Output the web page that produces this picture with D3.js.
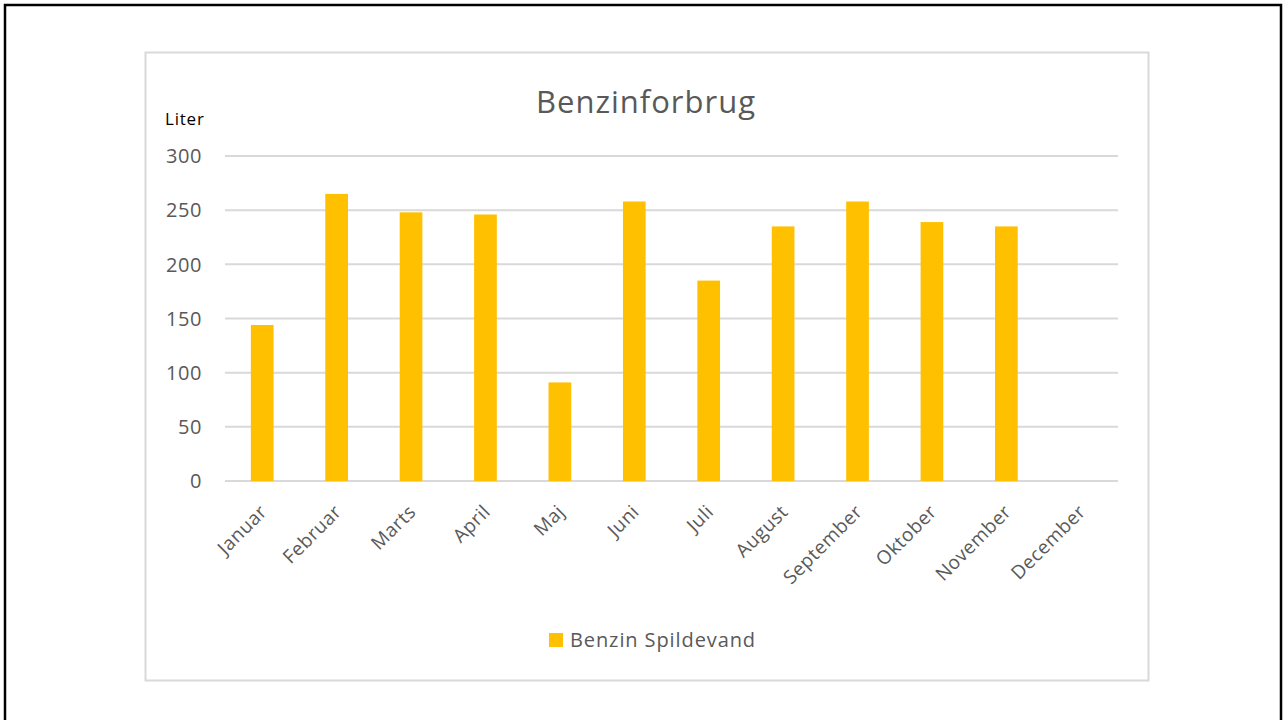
<!DOCTYPE html>
<html>
<head>
<meta charset="utf-8">
<script src="https://cdn.jsdelivr.net/npm/d3@7"></script>
<style>
  html, body { margin: 0; padding: 0; background: #fff; }
  svg { display: block; font-family: "Open Sans", sans-serif; }
</style>
</head>
<body>
<div id="chart"></div>
<script>
// Data
const months = ["Januar", "Februar", "Marts", "April", "Maj", "Juni", "Juli",
  "August", "September", "Oktober", "November", "December"];
const benzin = [144, 265, 248, 246, 91, 258, 185, 235, 258, 239, 235, null];
const yTicks = [0, 50, 100, 150, 200, 250, 300];
const seriesName = "Benzin Spildevand";
const chartTitle = "Benzinforbrug";
const yUnit = "Liter";

const width = 1284, height = 720;

const svg = d3.select("#chart")
  .append("svg")
  .attr("width", width)
  .attr("height", height);

// outer black frame (page border)
svg.append("rect")
  .attr("x", 5).attr("y", 5)
  .attr("width", 1276).attr("height", 730)
  .attr("fill", "none")
  .attr("stroke", "#000")
  .attr("stroke-width", 2.5);

// chart area box
svg.append("rect")
  .attr("x", 145.5).attr("y", 52.5)
  .attr("width", 1003).attr("height", 628)
  .attr("fill", "#fff")
  .attr("stroke", "#d9d9d9")
  .attr("stroke-width", 2);

const plot = { left: 225, right: 1118, top: 156, bottom: 481 };

const x = d3.scaleBand()
  .domain(months)
  .range([plot.left, plot.right])
  .paddingInner(0.695)
  .paddingOuter(0.3475);

const y = d3.scaleLinear()
  .domain([0, 300])
  .range([plot.bottom, plot.top]);

// gridlines
svg.append("g")
  .selectAll("line")
  .data(yTicks)
  .enter()
  .append("line")
  .attr("x1", plot.left)
  .attr("x2", plot.right)
  .attr("y1", d => y(d))
  .attr("y2", d => y(d))
  .attr("stroke", "#d9d9d9")
  .attr("stroke-width", 2);

// y labels
svg.append("g")
  .selectAll("text")
  .data(yTicks)
  .enter()
  .append("text")
  .attr("x", 202)
  .attr("y", d => y(d))
  .attr("dy", "0.36em")
  .attr("text-anchor", "end")
  .attr("font-size", 20)
  .attr("letter-spacing", 0.6)
  .attr("fill", "#595959")
  .text(d => d);

// bars
svg.append("g")
  .selectAll("rect")
  .data(months.map((m, i) => ({ m, v: benzin[i] })).filter(d => d.v != null))
  .enter()
  .append("rect")
  .attr("x", d => x(d.m))
  .attr("y", d => y(d.v))
  .attr("width", x.bandwidth())
  .attr("height", d => y(0) - y(d.v))
  .attr("fill", "#ffc000");

// x labels, rotated
svg.append("g")
  .selectAll("text")
  .data(months)
  .enter()
  .append("text")
  .attr("transform", d => `translate(${x(d) + x.bandwidth() / 2 + 6},${plot.bottom + 32}) rotate(-45)`)
  .attr("text-anchor", "end")
  .attr("font-size", 19)
  .attr("letter-spacing", 0.5)
  .attr("fill", "#595959")
  .text(d => d);

// title
svg.append("text")
  .attr("x", 646)
  .attr("y", 113)
  .attr("text-anchor", "middle")
  .attr("font-size", 31)
  .attr("letter-spacing", 1)
  .attr("fill", "#595959")
  .text(chartTitle);

// unit label
svg.append("text")
  .attr("x", 165)
  .attr("y", 125)
  .attr("font-size", 17)
  .attr("letter-spacing", 0.8)
  .attr("fill", "#000")
  .text(yUnit);

// legend
const legend = svg.append("g").attr("transform", "translate(549,633)");
legend.append("rect")
  .attr("width", 14).attr("height", 14)
  .attr("fill", "#ffc000");
legend.append("text")
  .attr("x", 21)
  .attr("y", 7)
  .attr("dy", "0.36em")
  .attr("font-size", 20)
  .attr("letter-spacing", 0.9)
  .attr("fill", "#595959")
  .text(seriesName);
</script>
</body>
</html>
